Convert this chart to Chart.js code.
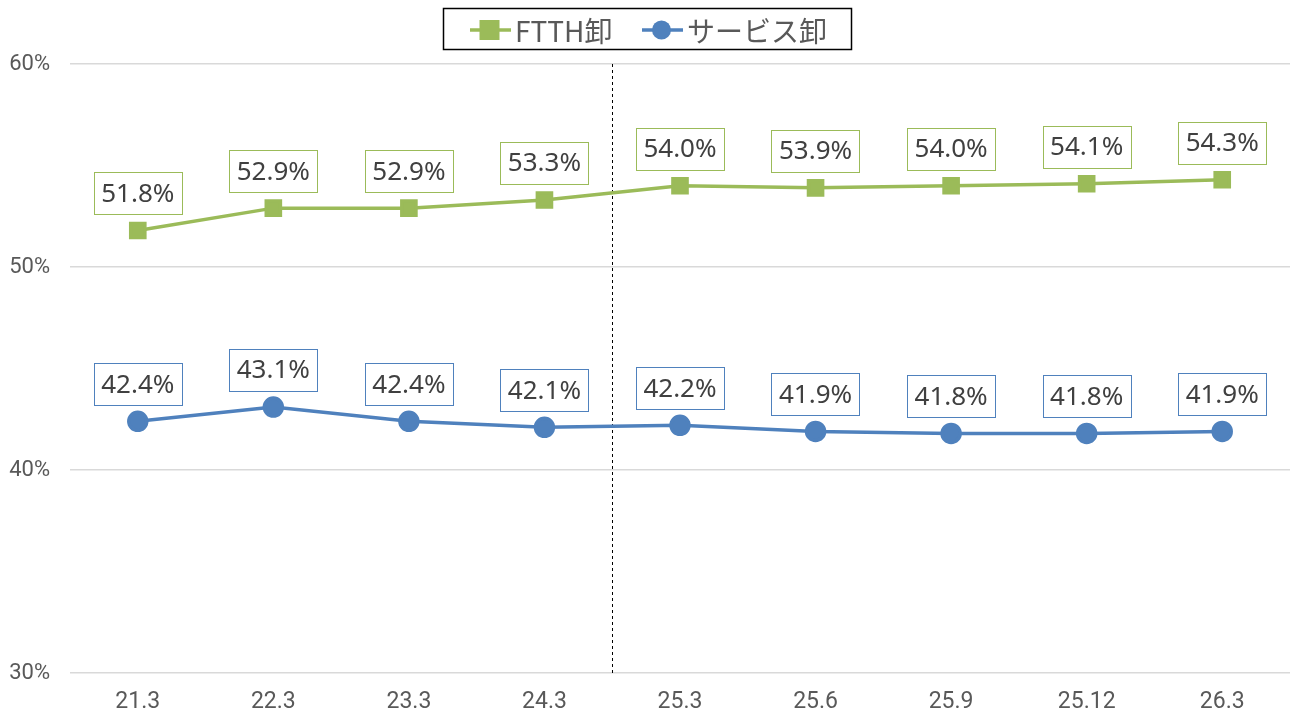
<!DOCTYPE html>
<html><head><meta charset="utf-8">
<script src="https://cdn.jsdelivr.net/npm/chart.js@4/dist/chart.umd.min.js"></script>
<style>html,body{margin:0;padding:0;background:#fff}#wrap{width:1295px;height:718px}</style>
</head><body><div id="wrap"><canvas id="c" width="1295" height="718"></canvas></div>
<script>
const categories = ['21.3','22.3','23.3','24.3','25.3','25.6','25.9','25.12','26.3'];
const ftthValues = [51.8, 52.9, 52.9, 53.3, 54.0, 53.9, 54.0, 54.1, 54.3];
const serviceValues = [42.4, 43.1, 42.4, 42.1, 42.2, 41.9, 41.8, 41.8, 41.9];
const seriesNames = ['FTTH卸', 'サービス卸'];
const yTicks = [30, 40, 50, 60];

const GREEN = '#9BBB59', BLUE = '#4F81BD';

const labelPlugin = {
  id: 'boxLabels',
  afterDatasetsDraw(chart) {
    const ctx = chart.ctx;
    ctx.save();
    ctx.font = '26px "Noto Sans", "DejaVu Sans", sans-serif';
    ctx.textAlign = 'center';
    ctx.textBaseline = 'middle';
    chart.data.datasets.forEach((ds, di) => {
      const meta = chart.getDatasetMeta(di);
      meta.data.forEach((pt, i) => {
        const txt = ds.data[i].toFixed(1) + '%';
        const w = ctx.measureText(txt).width + 15;
        const h = 42;
        const cx = pt.x, bottom = pt.y - 16;
        ctx.fillStyle = '#fff';
        ctx.fillRect(cx - w/2, bottom - h, w, h);
        ctx.strokeStyle = ds.borderColor;
        ctx.lineWidth = 1;
        ctx.strokeRect(Math.round(cx - w/2) + 0.5, Math.round(bottom - h) + 0.5, Math.round(w), h);
        ctx.fillStyle = '#404040';
        ctx.fillText(txt, cx, bottom - h/2 + 1);
      });
    });
    ctx.restore();
  }
};

const dividerPlugin = {
  id: 'divider',
  beforeDatasetsDraw(chart) {
    const ctx = chart.ctx, xs = chart.scales.x, ca = chart.chartArea;
    const x = Math.round((xs.getPixelForValue(3) + xs.getPixelForValue(4)) / 2) + 0.5;
    ctx.save();
    ctx.strokeStyle = '#000';
    ctx.lineWidth = 1;
    ctx.setLineDash([3, 3]);
    ctx.beginPath();
    ctx.moveTo(x, ca.top);
    ctx.lineTo(x, ca.bottom);
    ctx.stroke();
    ctx.restore();
  }
};

const legendPlugin = {
  id: 'customLegend',
  afterDraw(chart) {
    const ctx = chart.ctx;
    ctx.save();
    ctx.strokeStyle = '#000';
    ctx.lineWidth = 1.5;
    ctx.fillStyle = '#fff';
    ctx.fillRect(443, 8, 409, 42);
    ctx.strokeRect(443.5, 8.5, 408, 41);
    ctx.font = '28px "Noto Sans CJK JP", sans-serif';
    ctx.textBaseline = 'middle';
    ctx.textAlign = 'left';
    const items = [
      {x0: 470, color: GREEN, shape: 'rect', text: seriesNames[0]},
      {x0: 642, color: BLUE, shape: 'circle', text: seriesNames[1]}
    ];
    const cy = 30;
    items.forEach(it => {
      ctx.strokeStyle = it.color;
      ctx.lineWidth = 3.5;
      ctx.beginPath();
      ctx.moveTo(it.x0, cy);
      ctx.lineTo(it.x0 + 41, cy);
      ctx.stroke();
      ctx.fillStyle = it.color;
      const mx = it.x0 + 19.5;
      if (it.shape === 'rect') {
        ctx.fillRect(mx - 10, cy - 10, 20, 20);
      } else {
        ctx.beginPath();
        ctx.arc(mx, cy, 9.5, 0, Math.PI * 2);
        ctx.fill();
      }
      ctx.fillStyle = '#595959';
      ctx.fillText(it.text, it.x0 + 45, cy + 1);
    });
    ctx.restore();
  }
};

new Chart(document.getElementById('c'), {
  type: 'line',
  data: {
    labels: categories,
    datasets: [
      {label: seriesNames[0], data: ftthValues, borderColor: GREEN, backgroundColor: GREEN,
       borderWidth: 3.5, pointStyle: 'rect', pointRadius: 10, pointHoverRadius: 10,
       pointBorderColor: GREEN, pointBackgroundColor: GREEN, tension: 0},
      {label: seriesNames[1], data: serviceValues, borderColor: BLUE, backgroundColor: BLUE,
       borderWidth: 3.5, pointStyle: 'circle', pointRadius: 9, pointHoverRadius: 9,
       pointBorderColor: BLUE, pointBackgroundColor: BLUE, tension: 0}
    ]
  },
  options: {
    responsive: false,
    animation: false,
    devicePixelRatio: 1,
    layout: {autoPadding: false, padding: {top: 64, right: 5, left: 0, bottom: 0}},
    plugins: {legend: {display: false}, tooltip: {enabled: false}},
    scales: {
      x: {
        offset: true,
        grid: {display: false, drawTicks: false},
        border: {display: false},
        ticks: {color: '#595959', font: {size: 23, family: '"Roboto", sans-serif'}, padding: 15, maxRotation: 0},
        afterFit(s) { s.height = 45; }
      },
      y: {
        min: 30, max: 60,
        afterBuildTicks(s) { s.ticks = yTicks.map(v => ({value: v})); },
        grid: {color: '#d9d9d9', lineWidth: 1.5, drawTicks: false},
        border: {display: false},
        ticks: {color: '#595959', font: {size: 22, family: '"Roboto", sans-serif'}, padding: 20,
                callback: v => v + '%'},
        afterFit(s) { s.width = 70; }
      }
    }
  },
  plugins: [dividerPlugin, labelPlugin, legendPlugin]
});
</script></body></html>
